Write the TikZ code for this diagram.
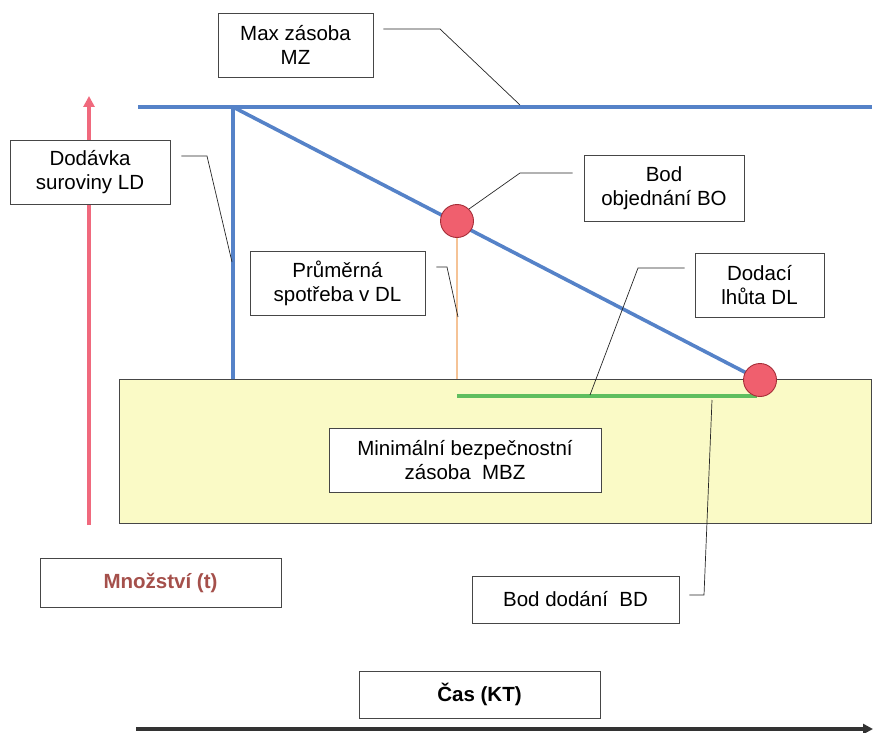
\documentclass[tikz,border=0pt]{standalone}
\usepackage{fontspec}
\setmainfont{Liberation Sans}
\usetikzlibrary{arrows.meta}
\definecolor{bl}{RGB}{85,130,200}
\definecolor{pk}{RGB}{240,105,125}
\definecolor{orl}{RGB}{245,195,150}
\definecolor{gr}{RGB}{95,190,95}
\definecolor{yl}{RGB}{250,250,198}
\definecolor{cf}{RGB}{240,95,110}
\definecolor{cb}{RGB}{165,45,55}
\definecolor{bx}{RGB}{70,70,70}
\definecolor{mred}{RGB}{165,80,75}
\tikzset{
  lbl/.style={draw=bx, line width=0.9pt, fill=white, align=center, inner sep=0pt,
              font=\fontsize{20.5}{24}\selectfont},
  lead/.style={draw=black!85, line width=0.7pt},
  bline/.style={draw=bl, line width=3.6pt},
  dot/.style={circle, draw=cb, line width=0.9pt, fill=cf, minimum size=33pt, inner sep=0pt}
}
\begin{document}
\begin{tikzpicture}[x=1pt,y=-1pt]
\useasboundingbox (0,0) rectangle (873,733);
% safety zone
\node[draw=bx, line width=0.9pt, fill=yl, minimum width=752pt, minimum height=144pt, inner sep=0pt] (zone) at (495,451) {};
% axes
\coordinate (yb) at (89,525);
\coordinate (yt) at (89,96);
\draw[pk, line width=3.4pt, -{Triangle[length=11pt,width=11pt]}] (yb) -- (yt);
\coordinate (xl) at (136,729);
\coordinate (xr) at (873,729);
\draw[black!80, line width=4pt, -{Triangle[length=10pt,width=10pt]}] (xl) -- (xr);
% MZ line
\coordinate (mzl) at (138,107);
\coordinate (mzr) at (872,107);
\draw[bline] (mzl) -- (mzr);
% stock lines
\coordinate (top) at (233,107);
\coordinate (bot) at (233,379);
\coordinate (bdp) at (760,380);
\draw[bline, line join=round] (bot) -- (top) -- (bdp);
% orange and green lines
\coordinate (ob) at (457,379);
\coordinate (gl) at (457,396);
\coordinate (grr) at (757,396);
\draw[orl, line width=2.4pt] (457,221) -- (ob);
\draw[gr, line width=3.4pt] (gl) -- (grr);
% circles
\node[dot] (bo) at (457,221) {};
\node[dot] (bdc) at (760,380) {};
% label boxes
\node[lbl, minimum width=155pt, minimum height=64pt] (mz) at (295.5,45) {Max zásoba\\MZ};
\node[lbl, minimum width=160pt, minimum height=64pt] (ld) at (90,172) {Dodávka\\suroviny LD};
\node[lbl, minimum width=175pt, minimum height=64pt] (ps) at (337.5,283) {Průměrná\\spotřeba v DL};
\node[lbl, minimum width=160pt, minimum height=66pt] (bob) at (664,188) {Bod\\objednání BO};
\node[lbl, minimum width=129pt, minimum height=64pt] (dl) at (759.5,285) {Dodací\\lhůta DL};
\node[lbl, minimum width=272pt, minimum height=64pt] (mbz) at (465,460) {Minimální bezpečnostní\\zásoba\ \ MBZ};
\node[lbl, minimum width=207pt, minimum height=47pt] (bd) at (575.5,599.5) {Bod dodání\ \ BD};
\node[lbl, minimum width=241pt, minimum height=49pt, font=\fontsize{20.5}{24}\selectfont\bfseries, text=mred] (mn) at (160.5,582.5) {Množství (t)};
\node[lbl, minimum width=241pt, minimum height=47pt, font=\fontsize{20.5}{24}\selectfont\bfseries] (cas) at (479.5,694.5) {Čas (KT)};
% leaders
\coordinate (m1) at (440,29);
\coordinate (m2) at (520,105);
\draw[lead] ([xshift=10pt,yshift=16pt]mz.east) -- (m1) -- (m2);
\coordinate (l1) at (207,156);
\coordinate (l2) at (232,262);
\draw[lead] ([xshift=11pt,yshift=16pt]ld.east) -- (l1) -- (l2);
\coordinate (p1) at (447,267);
\coordinate (p2) at (458,317);
\draw[lead] ([xshift=11pt,yshift=16pt]ps.east) -- (p1) -- (p2);
\coordinate (b1) at (520,173);
\draw[lead] ([xshift=-11pt,yshift=15pt]bob.west) -- (b1) -- (bo.north east);
\coordinate (d1) at (638,268);
\coordinate (d2) at (590,395);
\draw[lead] ([xshift=-10pt,yshift=17pt]dl.west) -- (d1) -- (d2);
\coordinate (e1) at (704,595);
\coordinate (e2) at (712,400);
\draw[lead] ([xshift=10pt,yshift=4.5pt]bd.east) -- (e1) -- (e2);
\end{tikzpicture}
\end{document}
